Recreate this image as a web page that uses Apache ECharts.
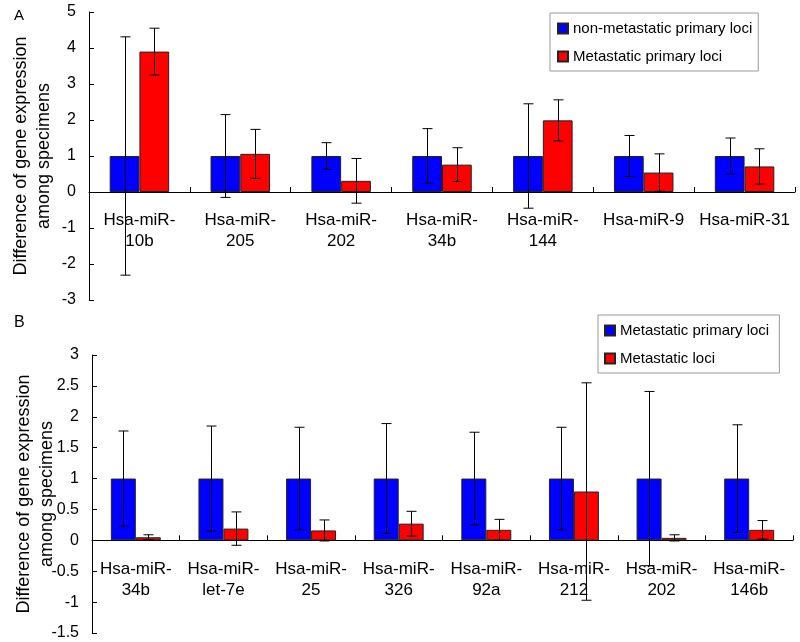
<!DOCTYPE html>
<html>
<head>
<meta charset="utf-8">
<script src="https://cdn.jsdelivr.net/npm/echarts@6/dist/echarts.min.js"></script>
<style>html,body{margin:0;padding:0;background:#fff}#c{width:800px;height:642px}</style>
</head>
<body>
<div id="c"></div>
<script>
// Panel A data
const catsA = ['Hsa-miR-\n10b','Hsa-miR-\n205','Hsa-miR-\n202','Hsa-miR-\n34b','Hsa-miR-\n144','Hsa-miR-9','Hsa-miR-31'];
const blueA = [1, 1, 1, 1, 1, 1, 1];
const blueErrA = [3.31, 1.15, 0.37, 0.76, 1.45, 0.57, 0.50];
const redA = [3.90, 1.06, 0.31, 0.76, 1.99, 0.54, 0.71];
const redErrA = [0.65, 0.68, 0.62, 0.47, 0.57, 0.52, 0.49];
const namesA = ['non-metastatic primary loci', 'Metastatic primary loci'];
const yTicksA = { min: -3, max: 5, interval: 1 };

// Panel B data
const catsB = ['Hsa-miR-\n34b','Hsa-miR-\nlet-7e','Hsa-miR-\n25','Hsa-miR-\n326','Hsa-miR-\n92a','Hsa-miR-\n212','Hsa-miR-\n202','Hsa-miR-\n146b'];
const blueB = [1, 1, 1, 1, 1, 1, 1, 1];
const blueErrB = [0.77, 0.85, 0.83, 0.89, 0.75, 0.83, 1.41, 0.87];
const redB = [0.05, 0.19, 0.16, 0.27, 0.17, 0.79, 0.04, 0.17];
const redErrB = [0.04, 0.27, 0.17, 0.20, 0.17, 1.76, 0.05, 0.15];
const namesB = ['Metastatic primary loci ', 'Metastatic loci'];
const yTicksB = { min: -1.5, max: 3, interval: 0.5 };

const yTitle = 'Difference of gene expression\namong specimens';
const FONT = '"Liberation Sans", Arial, sans-serif';

const gridA = { left: 89, right: 5, top: 12, height: 288, outerBoundsMode: 'none', containLabel: false };
const gridB = { left: 92, right: 7, top: 355, height: 278, outerBoundsMode: 'none', containLabel: false };

function errSeries(xi, vals, errs, sign, frac) {
  return {
    type: 'custom', xAxisIndex: xi, yAxisIndex: xi, z: 10, clip: false,
    data: vals.map((v, i) => [i, v, errs[i]]),
    encode: { x: 0, y: 1 },
    renderItem: function (params, api) {
      const i = api.value(0), m = api.value(1), e = api.value(2);
      const band = api.size([1, 0])[0];
      const off = sign * band * frac / 2;
      const t = api.coord([i, m + e]);
      const b = api.coord([i, m - e]);
      const x = Math.round(t[0] + off) + 0.5;
      const cap = 5;
      const st = { stroke: '#000', lineWidth: 1 };
      return {
        type: 'group',
        children: [
          { type: 'line', shape: { x1: x, y1: t[1], x2: x, y2: b[1] }, style: st },
          { type: 'line', shape: { x1: x - cap, y1: t[1], x2: x + cap, y2: t[1] }, style: st },
          { type: 'line', shape: { x1: x - cap, y1: b[1], x2: x + cap, y2: b[1] }, style: st }
        ]
      };
    }
  };
}

function barSeries(xi, name, vals, color, width) {
  return {
    type: 'bar', name: name, xAxisIndex: xi, yAxisIndex: xi,
    data: vals, barWidth: width, barGap: '0%',
    itemStyle: { color: color, borderColor: '#222', borderWidth: 1 }
  };
}

// x axis sits at value 0: offset derived from the value-axis range and grid height
function xAxisCfg(gi, cats, grid, t) {
  const zeroOffset = -grid.height * (0 - t.min) / (t.max - t.min);
  return {
    type: 'category', gridIndex: gi, data: cats, position: 'bottom',
    offset: zeroOffset,
    axisLine: { onZero: false, lineStyle: { color: '#000', width: 1 } },
    axisTick: { show: true, inside: true, length: 5, lineStyle: { color: '#000' } },
    axisLabel: { interval: 0, color: '#000', fontSize: 17, lineHeight: 21, margin: 18, fontFamily: FONT },
    splitLine: { show: false }
  };
}

function yAxisCfg(gi, t) {
  return {
    type: 'value', gridIndex: gi, min: t.min, max: t.max, interval: t.interval,
    axisLine: { show: true, lineStyle: { color: '#000', width: 1 } },
    axisTick: { show: true, inside: true, length: 5, lineStyle: { color: '#000' } },
    axisLabel: { color: '#000', fontSize: 16, margin: 13, fontFamily: FONT },
    splitLine: { show: false },
    name: yTitle, nameLocation: 'middle', nameRotate: 90, nameGap: 33, nameMoveOverlap: false,
    nameTextStyle: { color: '#000', fontSize: 18, lineHeight: 23, fontFamily: FONT }
  };
}

const chart = echarts.init(document.getElementById('c'), null, { renderer: 'canvas' });
chart.setOption({
  animation: false,
  backgroundColor: '#fff',
  textStyle: { fontFamily: FONT },
  title: [
    { text: 'A', left: 9, top: 3, textStyle: { fontSize: 15, fontWeight: 'normal', color: '#000', fontFamily: FONT } },
    { text: 'B', left: 9, top: 310, textStyle: { fontSize: 16, fontWeight: 'normal', color: '#000', fontFamily: FONT } }
  ],
  grid: [gridA, gridB],
  legend: [
    {
      data: namesA, orient: 'vertical', left: 550, top: 13,
      padding: [8, 6, 7, 7], itemGap: 13, itemWidth: 10, itemHeight: 10,
      borderColor: '#999', borderWidth: 1, icon: 'rect',
      textStyle: { fontSize: 15, color: '#000', fontFamily: FONT }
    },
    {
      data: namesB, orient: 'vertical', left: 598, top: 315,
      padding: [8, 6, 7, 6], itemGap: 13, itemWidth: 10, itemHeight: 10,
      borderColor: '#999', borderWidth: 1, icon: 'rect',
      textStyle: { fontSize: 15, color: '#000', fontFamily: FONT }
    }
  ],
  xAxis: [xAxisCfg(0, catsA, gridA, yTicksA), xAxisCfg(1, catsB, gridB, yTicksB)],
  yAxis: [yAxisCfg(0, yTicksA), yAxisCfg(1, yTicksB)],
  series: [
    barSeries(0, namesA[0], blueA, '#0000FF', '29.5%'),
    barSeries(0, namesA[1], redA, '#FF0000', '29.5%'),
    errSeries(0, blueA, blueErrA, -1, 0.295),
    errSeries(0, redA, redErrA, 1, 0.295),
    barSeries(1, namesB[0], blueB, '#0000FF', '28.5%'),
    barSeries(1, namesB[1], redB, '#FF0000', '28.5%'),
    errSeries(1, blueB, blueErrB, -1, 0.285),
    errSeries(1, redB, redErrB, 1, 0.285)
  ]
});
</script>
</body>
</html>
